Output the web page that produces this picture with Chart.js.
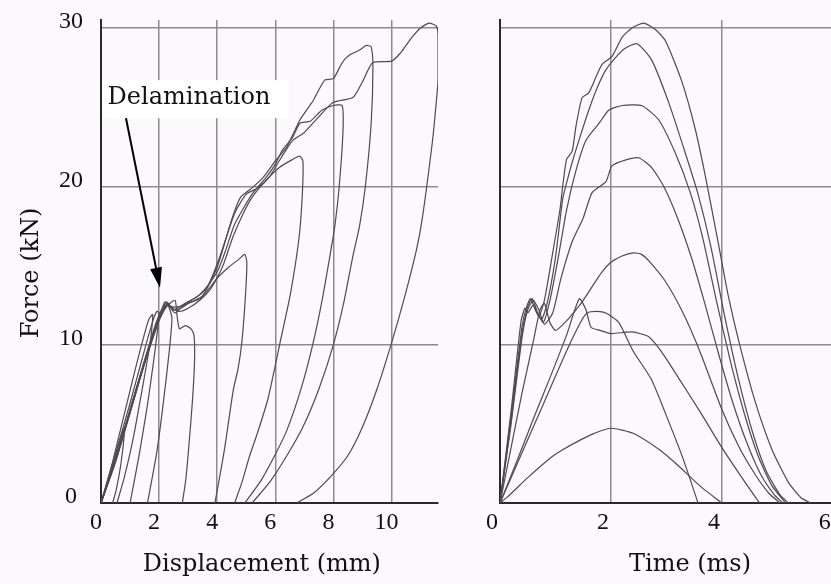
<!DOCTYPE html>
<html>
<head>
<meta charset="utf-8">
<script src="https://cdn.jsdelivr.net/npm/chart.js@4.4.0/dist/chart.umd.min.js"></script>
<style>
  html, body { margin: 0; padding: 0; width: 831px; height: 584px; overflow: hidden; background: #fcf9fc; }
  #leftChart { position: absolute; left: 0; top: 0; }
  #rightChart { position: absolute; left: 440px; top: 0; }
</style>
</head>
<body>
<canvas id="leftChart" width="445" height="584"></canvas>
<canvas id="rightChart" width="445" height="584"></canvas>
<script>
// tick labels
const forceTicks = [0, 10, 20, 30];
const dispTicks = [0, 2, 4, 6, 8, 10];
const timeTicks = [0, 2, 4, 6];

// force vs displacement curves, [mm, kN]
const fd0 = [[0,0],[0.3,1.8],[0.6,3.7],[0.78,4.7],[0.8,4.3],[0.68,2.4],[0.52,0.8],[0.4,0]];
const fd1 = [[0,0],[0.4,2.6],[0.8,5.6],[1.2,8.6],[1.5,10.7],[1.65,11.6],[1.78,11.9],[1.7,10.2],[1.4,7],[1.1,4],[0.8,1.6],[0.55,0]];
const fd2 = [[0,0],[0.5,3.1],[1.0,6.3],[1.4,9.0],[1.75,11.3],[1.92,12.1],[2.0,12.0],[1.85,9.5],[1.6,6.2],[1.3,2.9],[1.0,0]];
const fd3 = [[0,0],[0.5,2.8],[1.0,5.9],[1.5,9.0],[1.9,11.4],[2.15,12.4],[2.3,12.5],[2.44,11.7],[2.35,9.6],[2.15,6.4],[1.92,3.2],[1.6,0]];
const fd4 = [[0,0],[0.5,2.7],[1.0,5.8],[1.5,8.9],[2.0,11.7],[2.3,12.5],[2.55,12.8],[2.62,11.8],[2.7,11.0],[2.9,11.2],[3.1,11.0],[3.2,10.6],[3.22,9.0],[3.15,6.5],[3.02,3.5],[2.92,1.5],[2.8,0]];
const fd5 = [[0,0],[0.5,2.6],[1.0,5.7],[1.5,8.8],[2.0,11.6],[2.3,12.6],[2.5,12.2],[2.75,12.3],[3.0,12.6],[3.4,12.9],[3.7,13.5],[4.0,14.2],[4.4,14.9],[4.75,15.4],[4.95,15.7],[5.02,15.2],[4.97,13.0],[4.85,10.2],[4.72,8.5],[4.55,7.1],[4.26,3.5],[4.08,1.6],[3.92,0]];
const fd6 = [[0,0],[0.5,2.7],[1.0,5.8],[1.5,9.0],[2.0,11.8],[2.25,12.7],[2.45,12.3],[2.7,12.1],[3.0,12.3],[3.4,12.8],[3.8,13.6],[4.2,15.0],[4.54,16.8],[4.9,18.3],[5.2,19.3],[5.7,20.4],[6.15,21.2],[6.6,21.7],[6.84,21.9],[6.95,21.6],[6.93,19.5],[6.82,16.8],[6.52,13.2],[6.16,10.1],[5.75,6.6],[5.4,4.5],[5.12,3.0],[4.85,1.3],[4.6,0]];
const fd7 = [[0,0],[0.5,2.8],[1.0,5.9],[1.5,8.9],[2.0,11.6],[2.28,12.6],[2.5,12.2],[2.8,12.5],[3.1,12.8],[3.5,13.3],[4.0,14.6],[4.3,16.0],[4.6,17.6],[5.2,19.5],[5.7,20.6],[6.0,21.4],[6.25,22.3],[6.6,23.1],[6.85,24],[7.2,24.1],[7.6,24.8],[8.0,25.1],[8.3,25.1],[8.33,23.5],[8.2,20],[8.05,17.5],[7.87,15.5],[7.6,12.7],[7.3,10.1],[6.9,7.3],[6.4,4.6],[5.98,3.0],[5.5,1.4],[4.95,0]];
const fd8 = [[0,0],[0.5,2.7],[1.0,5.8],[1.5,8.9],[2.0,11.7],[2.2,12.7],[2.4,12.4],[2.7,12.4],[3.0,12.6],[3.5,13.1],[4.0,14.9],[4.5,17.9],[4.8,19.3],[5.2,19.9],[5.6,20.6],[6.0,21.6],[6.4,22.5],[6.85,24.2],[7.3,25.4],[7.7,26.7],[8.0,26.8],[8.3,27.8],[8.56,28.3],[8.9,28.6],[9.13,28.9],[9.3,28.8],[9.36,27.5],[9.3,24],[9.1,20],[8.9,17.5],[8.66,15.5],[8.35,12.6],[8.0,10.0],[7.5,7.2],[6.95,4.8],[6.4,3.0],[5.8,1.3],[5.2,0]];
const fd9 = [[0,0],[0.5,2.6],[1.0,5.7],[1.5,8.8],[2.0,11.5],[2.3,12.5],[2.55,12.0],[2.9,12.6],[3.3,13.0],[3.7,13.8],[4.1,15.6],[4.6,18.3],[5.0,19.5],[5.4,19.9],[5.8,20.6],[6.2,21.8],[6.6,22.9],[7.0,23.4],[7.5,24.4],[8.0,25.3],[8.67,25.6],[9.0,26.6],[9.35,27.8],[10.0,27.9],[10.3,28.4],[10.7,29.4],[11.0,30.0],[11.3,30.3],[11.55,30.1],[11.6,29.5],[11.6,26.7],[11.5,24.5],[11.4,22.7],[11.07,18.1],[10.86,16],[10.45,13],[10.0,10.1],[9.5,7.2],[9.0,4.8],[8.5,3.0],[7.87,1.6],[7.3,0.6],[6.73,0]];

// force vs time curves, [ms, kN]
const ft1 = [[0,0],[0.14,0.4],[0.5,1.6],[0.93,2.9],[1.1,3.3],[1.46,4.0],[1.7,4.4],[2.0,4.72],[2.4,4.4],[2.9,3.3],[3.2,2.4],[3.63,1.0],[4.0,0]];
const ft2 = [[0,0],[0.4,3.2],[0.8,6.4],[1.2,9.6],[1.45,11.4],[1.57,12.0],[1.75,12.1],[1.91,12.0],[2.14,11.4],[2.4,9.6],[2.73,7.8],[3.0,5.5],[3.3,2.8],[3.57,0]];
const ft3 = [[0,0],[0.3,2.6],[0.6,5.3],[0.9,7.9],[1.2,10.6],[1.43,12.9],[1.55,12.2],[1.64,11.1],[1.8,10.9],[2.0,10.7],[2.38,10.8],[2.68,10.5],[2.9,9.6],[3.2,8.0],[3.6,5.8],[4.0,3.5],[4.4,1.4],[4.68,0]];
const ft4 = [[0,0],[0.2,3.5],[0.4,7],[0.6,10.2],[0.72,12.2],[0.8,12.6],[0.9,11.4],[1.0,10.9],[1.2,11.5],[1.46,12.6],[1.65,13.6],[1.82,14.5],[2.0,15.2],[2.2,15.6],[2.41,15.8],[2.55,15.7],[2.68,15.3],[2.98,14.0],[3.3,12],[3.6,9.6],[4.0,5.9],[4.3,3.6],[4.6,1.8],[4.85,0.6],[5.05,0]];
const ft5 = [[0,0],[0.2,5],[0.4,10.5],[0.5,12.2],[0.6,12.8],[0.7,12.2],[0.8,11.3],[0.95,12],[1.1,14.2],[1.3,16.5],[1.5,18],[1.66,19.6],[1.91,20.3],[2.02,21.3],[2.3,21.7],[2.5,21.8],[2.73,21.2],[2.95,20],[3.2,18],[3.45,15.5],[3.7,12.5],[3.95,9.3],[4.2,6.3],[4.45,3.8],[4.7,1.8],[4.95,0.5],[5.1,0]];
const ft6 = [[0,0],[0.2,5.2],[0.4,10.8],[0.5,12.4],[0.58,12.9],[0.68,12],[0.78,11.4],[0.9,12.8],[1.05,15.5],[1.2,18.5],[1.37,21],[1.55,22.9],[1.79,24],[1.96,24.8],[2.2,25.1],[2.55,25.1],[2.86,24.2],[3.16,22.1],[3.43,19.6],[3.65,16.8],[3.9,12.8],[4.15,9],[4.4,5.7],[4.65,3],[4.9,1.1],[5.15,0]];
const ft7 = [[0,0],[0.2,5.5],[0.4,11.2],[0.48,12.4],[0.55,12.9],[0.65,12.1],[0.75,11.6],[0.85,12.6],[1.0,15.5],[1.13,19.2],[1.2,20.2],[1.3,21.5],[1.45,23.2],[1.6,24.8],[1.75,26.2],[1.9,27.3],[2.05,28.0],[2.25,28.7],[2.47,29.0],[2.73,28],[3.04,25.3],[3.34,22.1],[3.57,19.5],[3.8,16.2],[4.05,11.8],[4.3,7.8],[4.55,4.5],[4.8,2],[5.05,0.5],[5.2,0]];
const ft8 = [[0,0],[0.2,5.8],[0.38,11.5],[0.45,12.3],[0.5,12.0],[0.6,12.5],[0.7,11.8],[0.8,12.8],[0.95,15.8],[1.08,18.5],[1.13,20],[1.2,21.7],[1.3,22.2],[1.37,23.8],[1.48,25.6],[1.6,25.9],[1.73,26.9],[1.84,27.7],[2.02,28.2],[2.2,29.4],[2.38,30],[2.59,30.3],[2.8,29.9],[2.98,29.2],[3.27,26.7],[3.52,23.6],[3.71,20.5],[3.93,16.5],[4.12,13],[4.32,10],[4.6,6.4],[4.9,3.4],[5.2,1.3],[5.42,0.35],[5.6,0]];

// annotation anchor points, [mm, kN]
const labelText = 'Delamination';
const labelAt = [3.03, 25.6];
const labelBox = [[0.05, 26.7], [6.45, 24.3]];
const arrowFrom = [0.86, 24.3];
const arrowTo = [2.03, 13.6];

const lineColor = '#4c4c4c';
const gridColor = '#8c8c8c';
const axisColor = '#2a2a2a';
const textColor = '#111111';
const titleFont = { family: "'DejaVu Serif', serif", size: 24 };
const tickFont = { family: "'Liberation Serif', serif", size: 24 };

function toDatasets(curves) {
    return curves.map(c => ({
        data: c.map(p => ({ x: p[0], y: p[1] })),
        borderColor: lineColor,
        borderWidth: 1.2,
        pointRadius: 0,
        tension: 0.2,
        fill: false
    }));
}

function fixedTicks(values) {
    return scale => { scale.ticks = values.map(v => ({ value: v })); };
}

const gridStyle = { color: gridColor, lineWidth: 1.5, drawTicks: false };
const borderStyle = { color: axisColor, width: 2 };

// Delamination label with arrow
const delamPlugin = {
    id: 'delam',
    afterDraw(chart) {
        const { ctx, scales: { x, y } } = chart;
        const px = p => [x.getPixelForValue(p[0]), y.getPixelForValue(p[1])];
        ctx.save();
        const [bx0, by0] = px(labelBox[0]);
        const [bx1, by1] = px(labelBox[1]);
        ctx.fillStyle = '#ffffff';
        ctx.fillRect(bx0, by0, bx1 - bx0, by1 - by0);
        ctx.font = "24px 'DejaVu Serif'";
        ctx.fillStyle = textColor;
        ctx.textAlign = 'center';
        ctx.textBaseline = 'middle';
        const [tx, ty] = px(labelAt);
        ctx.fillText(labelText, tx, ty);

        const [ax0, ay0] = px(arrowFrom);
        const [ax1, ay1] = px(arrowTo);
        const ang = Math.atan2(ay1 - ay0, ax1 - ax0);
        const headLen = 20, headW = 6;
        const baseX = ax1 - headLen * Math.cos(ang), baseY = ay1 - headLen * Math.sin(ang);
        ctx.strokeStyle = '#000';
        ctx.lineWidth = 2;
        ctx.beginPath();
        ctx.moveTo(ax0, ay0);
        ctx.lineTo(baseX, baseY);
        ctx.stroke();
        ctx.fillStyle = '#000';
        ctx.beginPath();
        ctx.moveTo(ax1, ay1);
        ctx.lineTo(baseX + headW * Math.sin(ang), baseY - headW * Math.cos(ang));
        ctx.lineTo(baseX - headW * Math.sin(ang), baseY + headW * Math.cos(ang));
        ctx.closePath();
        ctx.fill();
        ctx.restore();
    }
};

// left panel: force vs displacement
new Chart(document.getElementById('leftChart'), {
    type: 'line',
    data: { datasets: toDatasets([fd0, fd1, fd2, fd3, fd4, fd5, fd6, fd7, fd8, fd9]) },
    options: {
        responsive: false,
        animation: false,
        layout: { padding: { left: 0, right: 7, top: 20, bottom: 0 } },
        plugins: { legend: { display: false }, tooltip: { enabled: false } },
        scales: {
            x: {
                type: 'linear',
                min: 0,
                max: 11.6,
                afterBuildTicks: fixedTicks(dispTicks),
                afterFit: s => { s.height = 81; },
                grid: gridStyle,
                border: borderStyle,
                ticks: { font: tickFont, color: textColor, padding: 5, labelOffset: -5, maxRotation: 0 },
                title: { display: true, text: 'Displacement (mm)  ', font: titleFont, color: textColor, padding: { top: 0, bottom: 5 } }
            },
            y: {
                type: 'linear',
                min: 0,
                max: 30.5,
                afterBuildTicks: fixedTicks(forceTicks),
                afterFit: s => { s.width = 101; s.paddingTop = 0; s.paddingBottom = 0; },
                grid: gridStyle,
                border: borderStyle,
                ticks: { font: tickFont, color: textColor, padding: 18, labelOffset: -6, crossAlign: 'center' },
                title: { display: true, text: 'Force (kN)   ', font: titleFont, color: textColor, padding: { top: 17, bottom: 0 } }
            }
        }
    },
    plugins: [delamPlugin]
});

// right panel: force vs time
new Chart(document.getElementById('rightChart'), {
    type: 'line',
    data: { datasets: toDatasets([ft1, ft2, ft3, ft4, ft5, ft6, ft7, ft8]) },
    options: {
        responsive: false,
        animation: false,
        layout: { padding: { left: 0, right: 5, top: 20, bottom: 0 } },
        plugins: { legend: { display: false }, tooltip: { enabled: false } },
        scales: {
            x: {
                type: 'linear',
                min: 0,
                max: 6.85,
                afterBuildTicks: fixedTicks(timeTicks),
                afterFit: s => { s.height = 81; },
                grid: gridStyle,
                border: borderStyle,
                ticks: { font: tickFont, color: textColor, padding: 5, labelOffset: -8, maxRotation: 0 },
                title: { display: true, text: 'Time (ms)', font: titleFont, color: textColor, padding: { top: 0, bottom: 5 } }
            },
            y: {
                type: 'linear',
                min: 0,
                max: 30.5,
                afterBuildTicks: fixedTicks(forceTicks),
                afterFit: s => { s.width = 60; s.paddingTop = 0; s.paddingBottom = 0; },
                grid: gridStyle,
                border: borderStyle,
                ticks: { display: false }
            }
        }
    }
});
</script>
</body>
</html>
